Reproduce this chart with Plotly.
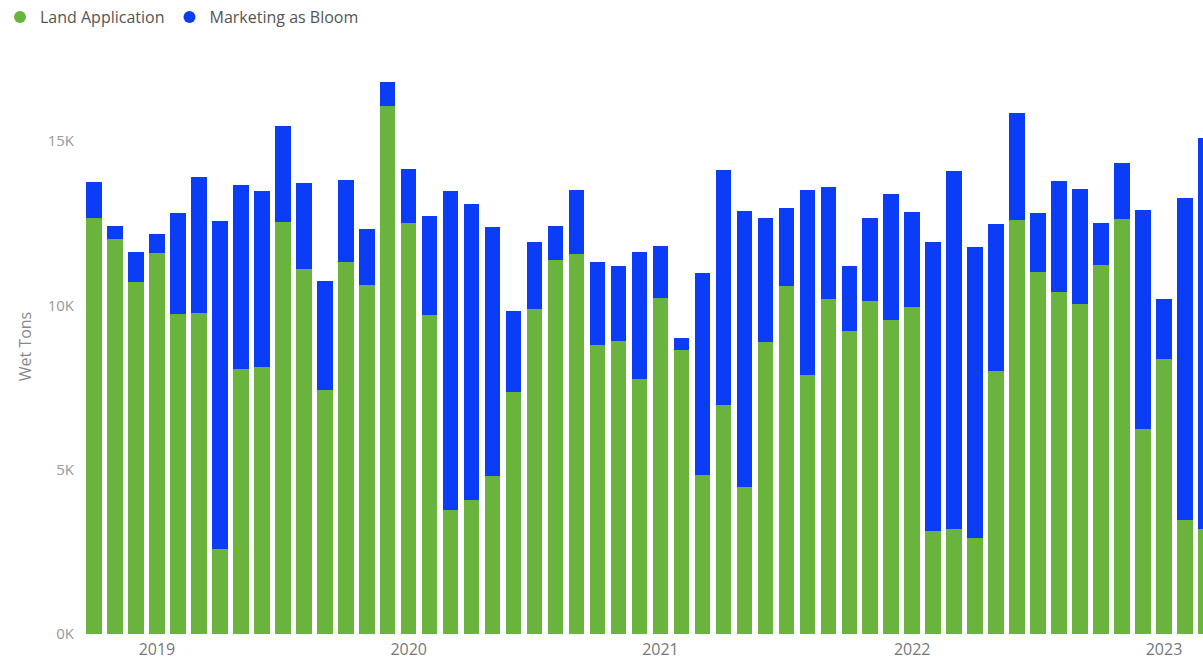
import plotly.graph_objects as go

months = ["2018-10", "2018-11", "2018-12",
          "2019-01", "2019-02", "2019-03", "2019-04", "2019-05", "2019-06",
          "2019-07", "2019-08", "2019-09", "2019-10", "2019-11", "2019-12",
          "2020-01", "2020-02", "2020-03", "2020-04", "2020-05", "2020-06",
          "2020-07", "2020-08", "2020-09", "2020-10", "2020-11", "2020-12",
          "2021-01", "2021-02", "2021-03", "2021-04", "2021-05", "2021-06",
          "2021-07", "2021-08", "2021-09", "2021-10", "2021-11", "2021-12",
          "2022-01", "2022-02", "2022-03", "2022-04", "2022-05", "2022-06",
          "2022-07", "2022-08", "2022-09", "2022-10", "2022-11", "2022-12",
          "2023-01", "2023-02", "2023-03"]

land_application = [12660, 12020, 10700,
                    11600, 9750, 9770, 2590, 8070, 8120,
                    12540, 11120, 7440, 11320, 10620, 16060,
                    12510, 9700, 3760, 4070, 4820, 7370,
                    9890, 11390, 11560, 8800, 8930, 7760,
                    10230, 8630, 4830, 6980, 4480, 8890,
                    10580, 7890, 10210, 9210, 10130, 9550,
                    9960, 3140, 3210, 2910, 7990, 12610,
                    11020, 10400, 10030, 11220, 12630, 6250,
                    8370, 3480, 3200]

totals = [13750, 12410, 11620,
          12160, 12810, 13900, 12560, 13670, 13490,
          15470, 13730, 10750, 13830, 12330, 16800,
          14150, 12710, 13470, 13100, 12390, 9840,
          11920, 12410, 13520, 11310, 11210, 11620,
          11820, 9000, 10990, 14130, 12880, 12650,
          12980, 13520, 13590, 11190, 12670, 13380,
          12830, 11920, 14080, 11770, 12480, 15860,
          12800, 13800, 13540, 12500, 14350, 12890,
          10200, 13270, 15100]

marketing_as_bloom = [t - l for t, l in zip(totals, land_application)]

year_ticks = ["2019-01", "2020-01", "2021-01", "2022-01", "2023-01"]
year_labels = ["2019", "2020", "2021", "2022", "2023"]
y_ticks = [0, 5000, 10000, 15000]
y_tick_labels = ["0K", "5K", "10K", "15K"]

GREEN = "#6AB43E"
BLUE = "#0A3DF5"
FONT = "Segoe UI, Open Sans, DejaVu Sans, sans-serif"

fig = go.Figure()
fig.add_trace(go.Bar(x=months, y=land_application, name="Land Application",
                     marker=dict(color=GREEN, line=dict(width=0)), showlegend=False))
fig.add_trace(go.Bar(x=months, y=marketing_as_bloom, name="Marketing as Bloom",
                     marker=dict(color=BLUE, line=dict(width=0)), showlegend=False))
# legend entries with round markers
fig.add_trace(go.Scatter(x=[None], y=[None], mode="markers", name="Land Application",
                         marker=dict(color=GREEN, size=9, symbol="circle")))
fig.add_trace(go.Scatter(x=[None], y=[None], mode="markers", name="Marketing as Bloom",
                         marker=dict(color=BLUE, size=9, symbol="circle")))

fig.update_layout(
    width=1203, height=662,
    margin=dict(l=83, r=0, t=59, b=28, autoexpand=False),
    barmode="stack", bargap=0.26,
    plot_bgcolor="white", paper_bgcolor="white",
    font=dict(family=FONT, color="#777777", size=15),
    legend=dict(orientation="h", x=0.0, xref="container", y=1.0, yref="container",
                xanchor="left", yanchor="top",
                traceorder="normal", font=dict(size=16, color="#555555"),
                itemsizing="constant", itemwidth=30,
                bgcolor="rgba(0,0,0,0)"),
    showlegend=True,
)

fig.update_xaxes(type="category", categoryorder="array", categoryarray=months,
                 range=[-0.524, 52.86], tickmode="array", tickvals=year_ticks,
                 ticktext=year_labels, showgrid=False, zeroline=False, showline=False,
                 ticks="", automargin=False, ticklabelstandoff=4,
                 tickfont=dict(size=16, color="#777777"))
fig.update_yaxes(range=[0, 17500], tickmode="array", tickvals=y_ticks,
                 ticktext=y_tick_labels, showgrid=False, zeroline=False, showline=False,
                 ticks="", ticklabelstandoff=8, automargin=False,
                 tickfont=dict(size=15, color="#999999"),
                 title=dict(text="Wet Tons", font=dict(size=16, color="#888888"), standoff=12))

fig.write_html("out.html", config={"displayModeBar": False},
               post_script="document.body.style.margin='0';")
